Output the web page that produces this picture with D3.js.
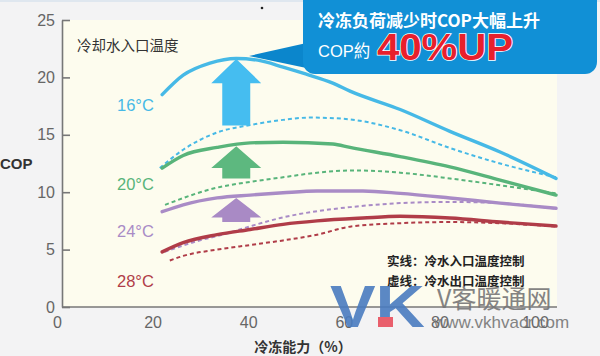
<!DOCTYPE html>
<html><head><meta charset="utf-8">
<script src="https://cdn.jsdelivr.net/npm/d3@7"></script>
<style>body{margin:0;background:#f3f3f3}svg{display:block}</style>
</head><body><svg id="c" width="600" height="356"></svg>
<script>
// ---- data ----
const xTicks = [0, 20, 40, 60, 80, 100];
const yTicks = [0, 5, 10, 15, 20, 25];
const seriesNames = ["16°C", "20°C", "24°C", "28°C"];
const seriesColors = ["#46b9e6", "#58b47a", "#a98bc6", "#b03c48"];
// [cooling capacity %, COP]
const solid16 = [[22,18.5],[26.4,20.2],[32,21.25],[37.5,21.65],[42,21.5],[47.3,20.9],[52,20.3],[57.7,19.5],[61.3,18.8],[71.8,17.2],[82.2,15.3],[92.7,13.5],[104.4,11.2]];
const dashed16 = [[21.5,12.1],[26.4,13.7],[33.5,15.2],[40.4,15.85],[47.3,16.3],[52.9,16.5],[59.8,16.4],[71.8,15.4],[82.2,13.85],[92.7,12.5],[104.4,11.3]];
const solid20 = [[22,12.1],[26.4,13.2],[33.5,13.9],[40.4,14.3],[47.3,14.35],[57.7,14.2],[61.3,13.9],[71.8,13.1],[82.2,12.2],[92.7,11.05],[104.4,9.75]];
const dashed20 = [[22.6,8.9],[33.5,10.4],[40.4,10.9],[47.3,11.3],[54.4,11.7],[62,11.9],[71.8,11.7],[82.2,11.2],[92.7,10.6],[104.4,9.9]];
const solid24 = [[22,8.3],[26.4,8.9],[33.5,9.5],[40.4,9.75],[47.3,9.95],[54.4,10.1],[64,10.1],[71.8,9.9],[82.2,9.5],[92.7,9.05],[104.4,8.6]];
const dashed24 = [[22.5,4.8],[29,5.7],[35.5,6.4],[41,7.1],[46.7,7.75],[54.4,8.35],[61.3,8.7],[71.8,9.05],[82.2,9.15],[92.7,9.05],[104.4,8.55]];
const solid28 = [[22,4.8],[26.4,5.6],[33.5,6.3],[40.4,6.75],[47.3,7.2],[54.4,7.5],[64,7.75],[71.8,7.9],[82.2,7.75],[92.7,7.4],[104.4,7.05]];
const dashed28 = [[23.6,4.05],[26.4,4.45],[33.5,5.0],[40.4,5.4],[47.3,5.8],[54.4,6.3],[61.3,7.0],[71.8,7.3],[82.2,7.4],[92.7,7.3],[104.4,7.0]];
const solidSeries = [solid16, solid20, solid24, solid28];
const dashedSeries = [dashed16, dashed20, dashed24, dashed28];
// up arrows: [x, tail COP, head-base COP, tip COP]
const arrowData = [[37.5,15.8,19.5,21.6],[37.5,11.2,12.1,14.0],[37.5,7.4,7.8,9.5]];
const arrowColors = ["#45bdf0", "#5db87f", "#a98ac5"];
const titleText = "冷却水入口温度";
const xLabel = "冷冻能力（%）";
const yLabel = "COP";
const legendSolid = "实线：冷水入口温度控制";
const legendDashed = "虚线：冷水出口温度控制";
const calloutLine1 = "冷冻负荷减少时COP大幅上升";
const calloutLine2a = "COP約";
const calloutLine2b = "40%UP";

// ---- drawing ----
const svg = d3.select("#c");
const FONT = "'Liberation Sans', Arial, 'Noto Sans CJK SC', sans-serif";
const CJK = "'Noto Sans CJK SC', 'Liberation Sans', sans-serif";
const x = d3.scaleLinear().domain([0, 100]).range([57, 535]);
const y = d3.scaleLinear().domain([0, 25]).range([307, 20]);

svg.append("rect").attr("width", 600).attr("height", 356).attr("fill", "#f3f3f4");
svg.append("rect").attr("width", 600).attr("height", 2).attr("fill", "#dfe7ef");
svg.append("rect").attr("x", 62).attr("y", 20).attr("width", 495).attr("height", 287).attr("fill", "#fdfcee");
svg.append("circle").attr("cx", 262).attr("cy", 8).attr("r", 1.3).attr("fill", "#222");

// y axis
const ya = svg.append("g").attr("transform", "translate(62,0)")
  .call(d3.axisLeft(y).tickValues(yTicks).tickSizeInner(-8).tickSizeOuter(0).tickPadding(7));
ya.select(".domain").attr("stroke", "#777").attr("stroke-width", 1.6);
ya.selectAll(".tick line").attr("stroke", "#777").attr("stroke-width", 1.6);
ya.selectAll("text").attr("font-family", FONT).attr("font-size", 16).attr("fill", "#666");

// x axis
const xa = svg.append("g").attr("transform", "translate(0,307)")
  .call(d3.axisBottom(x).tickValues(xTicks).tickSize(0).tickPadding(10));
xa.select(".domain").remove();
xa.selectAll("text").attr("font-family", FONT).attr("font-size", 16).attr("fill", "#666");
svg.append("line").attr("x1", 62).attr("x2", 557).attr("y1", 307).attr("y2", 307)
  .attr("stroke", "#777").attr("stroke-width", 1.6);

svg.append("text").attr("x", 0).attr("y", 169).attr("font-family", FONT).attr("font-size", 15)
  .attr("font-weight", "bold").attr("fill", "#333").text(yLabel);
svg.append("text").attr("x", 303).attr("y", 352).attr("text-anchor", "middle").attr("font-family", CJK)
  .attr("font-size", 14).attr("font-weight", "bold").attr("fill", "#333").text(xLabel);
svg.append("text").attr("x", 77).attr("y", 51).attr("font-family", CJK).attr("font-size", 14.5)
  .attr("fill", "#333").text(titleText);

// lines
const line = d3.line().x(d => x(d[0])).y(d => y(d[1])).curve(d3.curveMonotoneX);
dashedSeries.forEach((s, i) => {
  svg.append("path").attr("d", line(s)).attr("fill", "none").attr("stroke", seriesColors[i])
    .attr("stroke-width", 2).attr("stroke-dasharray", "4,3");
});
solidSeries.forEach((s, i) => {
  svg.append("path").attr("d", line(s)).attr("fill", "none").attr("stroke", seriesColors[i])
    .attr("stroke-width", 3.4).attr("stroke-linecap", "round");
});

// series labels
const labelY = [111, 190, 237, 287];
seriesNames.forEach((n, i) => {
  svg.append("text").attr("x", 117).attr("y", labelY[i]).attr("font-family", FONT)
    .attr("font-size", 16.5).attr("fill", seriesColors[i]).text(n);
});

// arrows
arrowData.forEach((a, i) => {
  const cx = x(a[0]), yb = y(a[1]), yh = y(a[2]), yt = y(a[3]);
  const pts = [[cx - 14, yb], [cx - 14, yh], [cx - 25, yh], [cx, yt], [cx + 25, yh], [cx + 14, yh], [cx + 14, yb]];
  svg.append("polygon").attr("points", pts.map(p => p.join(",")).join(" ")).attr("fill", arrowColors[i]);
});

// legend
svg.append("text").attr("x", 387).attr("y", 266).attr("font-family", CJK).attr("font-size", 12.5)
  .attr("font-weight", "bold").attr("fill", "#222").text(legendSolid);
svg.append("text").attr("x", 387).attr("y", 286).attr("font-family", CJK).attr("font-size", 12.5)
  .attr("font-weight", "bold").attr("fill", "#222").text(legendDashed);

// callout
svg.append("polygon").attr("points", "249,56 320,40 335,74").attr("fill", "#0b86cc");
svg.append("rect").attr("x", 303).attr("y", -12).attr("width", 294).attr("height", 86).attr("rx", 12)
  .attr("fill", "#1190d6");
svg.append("text").attr("x", 318).attr("y", 27).attr("font-family", CJK).attr("font-size", 17)
  .attr("font-weight", "bold").attr("fill", "#fff").text(calloutLine1);
svg.append("text").attr("x", 318).attr("y", 57).attr("font-family", FONT).attr("font-size", 16.5)
  .attr("fill", "#fff").text(calloutLine2a);
svg.append("text").attr("x", 377).attr("y", 60).attr("font-family", FONT).attr("font-size", 37)
  .attr("font-weight", "bold").attr("fill", "#e8202c").attr("stroke", "#fff").attr("stroke-width", 1.5)
  .attr("paint-order", "stroke").attr("textLength", 136).attr("lengthAdjust", "spacingAndGlyphs").text(calloutLine2b);

// watermark
const wm = svg.append("g").attr("opacity", 0.9);
wm.append("text").attr("x", 330).attr("y", 327).attr("font-family", FONT).attr("font-size", 60)
  .attr("font-weight", "bold").attr("fill", "#4a7cc0").attr("textLength", 95)
  .attr("lengthAdjust", "spacingAndGlyphs").text("VK");
wm.append("rect").attr("x", 378).attr("y", 317).attr("width", 15).attr("height", 10).attr("fill", "#e8505e");
wm.append("text").attr("x", 437).attr("y", 308).attr("font-family", CJK).attr("font-size", 25)
  .attr("fill", "#777").text("V客暖通网");
wm.append("text").attr("x", 434).attr("y", 328).attr("font-family", FONT).attr("font-size", 17)
  .attr("fill", "#777").text("www.vkhvacr.com");
</script></body></html>
